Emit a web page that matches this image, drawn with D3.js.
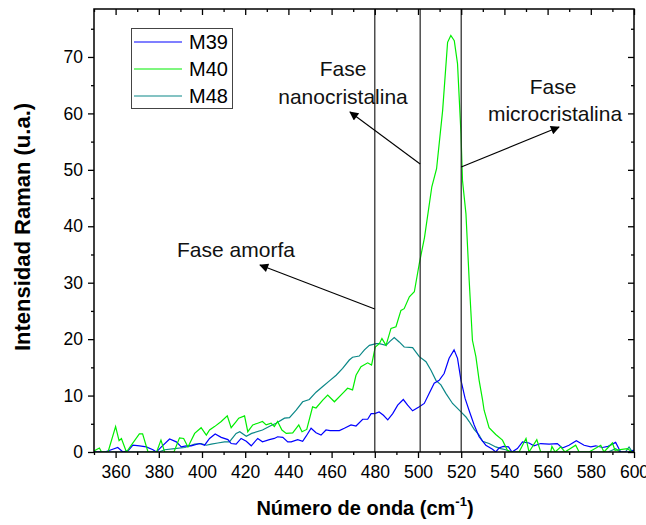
<!DOCTYPE html>
<html>
<head>
<meta charset="utf-8">
<script src="https://cdn.jsdelivr.net/npm/d3@7"></script>
<style>
  html, body { margin: 0; padding: 0; background: #fff; }
  svg { display: block; font-family: "Liberation Sans", Arial, sans-serif; }
</style>
</head>
<body>
<svg id="chart" width="646" height="525"></svg>
<script>
// ---------------- data ----------------
const seriesNames = ["M39", "M40", "M48"];
const seriesColors = ["#0000ff", "#00ee00", "#0a8787"];

const xM39 = [350,355,358,361,363.4,366,368,371.1,374.2,377.3,378.9,381.2,385,388.1,390.4,392.7,395,398.9,401.2,403.5,406.1,408.9,412,413.5,415.8,418.1,420.5,422.8,425.8,428,431.2,433.5,435,437.4,439.7,441.3,444.3,446.6,448.2,450.5,452.8,455.1,457.4,459.3,463.6,465.9,469,471.3,474.4,476.7,478.3,480,482,484,486,488.3,490.6,493.2,495.2,497.5,500.6,502.9,505.2,507.5,509.8,512.1,514.4,516.7,518.3,519.9,521.8,523.7,526,528.3,531.4,534.5,536,537.5,539.5,541.9,543.5,546,548.4,551.4,553.7,556.8,560.7,564.5,566.8,569.9,573.3,576.9,580,582.3,585.4,588,591.5,593.8,597.6,599.5,600];
const yM39 = [0,0,0.4,0.8,0,0.3,1.2,1.1,0.9,0.4,0,0.9,2.3,1.8,0.9,1.1,1.1,1.5,1.2,2.4,3.2,2.6,2.2,1.5,1.4,2.4,1.9,1.1,2.4,1.8,2.2,2.4,2.7,2.6,1.8,1.8,2.2,1.9,2.8,4.2,3.4,3.0,3.9,3.8,3.8,4.2,4.8,4.6,5.8,5.8,6.8,6.8,7.1,6.5,5.7,6.8,8.3,9.3,8.3,7.3,8.0,8.6,10.4,12.2,12.7,13.9,16.6,18.1,16.6,12.7,9.5,7.3,4.8,2.7,1.2,0.5,0,0.7,1.0,0.9,0,0.6,1.8,1.6,1.1,1.5,1.4,1.5,0.7,1.2,2.0,1.2,0.9,1.1,0.8,1.0,1.7,0,0,0.3,0.3];

const xM40 = [350,352.5,353.5,356.5,360,361.6,362.7,365,371,372.5,375,379,381,382.7,387,389.6,391.5,393.5,396.6,399.6,402,403.5,405.8,408.9,411.7,413.5,415.8,417,419.7,421.2,423.5,425.8,428,429.7,432,433.5,435,437,439,442,444.8,446.3,448.5,451.2,452.8,455.9,458.2,461.3,465.1,467.4,469.7,471.3,473.6,476.7,478.5,480.2,482.1,483.3,485.2,487.5,489.8,492.1,493.6,496,498.3,500.6,503,506.4,508.6,511.4,513.7,515.2,516.8,518.3,519.9,520.6,522.2,523.7,525.2,526.8,528.3,529.9,530.6,532.9,536,539.1,541.4,543,546.8,550,551.4,555,556.8,561.4,562,563.5,566.1,568,573,574.6,579.2,584.6,586.1,590,591.2,596.9,599.2,600];
const yM40 = [0.2,0.7,0,0,4.5,2.0,2.4,0,3.2,3.2,0,0,2.1,0,0,2.5,2.4,0.9,3.3,4.3,3.0,3.9,4.5,5.4,6.4,4.3,5.4,6.0,6.4,3.6,4.8,5.1,5.4,4.8,5.1,4.5,5.4,3.9,3.3,3.4,4.8,3.6,4.0,8.0,7.8,9.2,10.1,8.9,10.4,11.3,11.0,13.6,15.1,15.8,15.4,18.6,19.2,20.1,18.9,21.9,22.2,25.1,25.4,27.5,28.4,33.4,38.0,47.0,50.2,60.5,72.6,73.8,72.9,68.8,56.4,48.1,42.2,30.4,19.8,16.9,12.7,9.2,7.4,4.3,3.1,2.1,0.3,0,0,2.4,0,2.2,0,0,1.0,0,0.9,0,1.2,0,0,1.2,0,1.6,0.3,0.6,0,0];

const xM48 = [350,380,382.7,387.3,392,396.6,399.6,402,404.3,407.3,410.4,412.7,415.8,417.5,420.5,423,428,432,434.3,438.2,440.5,443.6,446.6,449.7,452.8,455.9,459,462.1,465.1,468.2,469.7,472.8,475.2,477.5,480.6,482.1,485.2,487,489,491.3,493.6,497.5,500.6,503.7,506,508.3,510.6,512.9,516,519.9,522.2,523.7,526,528.3,529.9,532.9,536,538.3,540.6,543,588,591.5,593.5,596,597.7,599.3,600];
const yM48 = [0,0,0.4,0.6,0.8,1.4,1.5,1.2,1.4,1.6,1.8,1.8,3.3,3.6,2.8,3.3,3.9,4.7,5.1,6.0,6.1,7.4,8.9,9.3,10.6,11.6,12.6,13.6,14.8,16.3,16.8,17.0,18.1,18.9,19.2,19.2,18.9,19.6,20.3,19.5,18.6,18.5,16.9,16.0,14.5,12.7,11.9,10.4,8.6,7.1,6.2,5.4,4.0,3.0,1.9,1.5,0.9,0.6,0.4,0,0,0.6,0,0,0.9,0,0];

const xTicksMajor = [360,380,400,420,440,460,480,500,520,540,560,580,600];
const xTicksMinor = [350,370,390,410,430,450,470,490,510,530,550,570,590];
const yTicksMajor = [0,10,20,30,40,50,60,70];
const yTicksMinor = [5,15,25,35,45,55,65,75];
const markerLines = [480, 501, 520];

// ---------------- layout ----------------
const svg = d3.select("#chart");
const L = 94, R = 634, T = 9, B = 452;
const x = d3.scaleLinear().domain([350, 600]).range([L, R]);
const y = d3.scaleLinear().domain([0, 78.5]).range([B, T]);

svg.append("defs").append("clipPath").attr("id", "clip")
  .append("rect").attr("x", L).attr("y", T).attr("width", R - L).attr("height", B - T);
const mk = svg.select("defs").append("marker")
  .attr("id", "arrow").attr("viewBox", "0 0 10 10").attr("refX", 9).attr("refY", 5)
  .attr("markerWidth", 14).attr("markerHeight", 9).attr("markerUnits", "userSpaceOnUse")
  .attr("orient", "auto");
mk.append("path").attr("d", "M0,0 L10,5 L0,10 Z").attr("fill", "#000");

// series
const line = d3.line().x(d => x(d[0])).y(d => y(d[1]));
const seriesData = [
  d3.zip(xM39, yM39),
  d3.zip(xM40, yM40),
  d3.zip(xM48, yM48)
];
const plotG = svg.append("g").attr("clip-path", "url(#clip)");
// draw order: M48, M39, M40 on top
[2, 0, 1].forEach(i => {
  plotG.append("path").datum(seriesData[i])
    .attr("fill", "none").attr("stroke", seriesColors[i]).attr("stroke-width", 1.2)
    .attr("d", line);
});

// vertical marker lines
svg.append("g").selectAll("line").data(markerLines).join("line")
  .attr("x1", d => x(d)).attr("x2", d => x(d)).attr("y1", T).attr("y2", B)
  .attr("stroke", "#222").attr("stroke-width", 1.2);

// axes
const fmt = d3.format("d");
svg.append("g").attr("transform", `translate(0,${B})`)
  .call(d3.axisBottom(x).tickValues(xTicksMajor).tickSize(6).tickPadding(8).tickFormat(fmt));
svg.append("g").attr("transform", `translate(0,${B})`)
  .call(d3.axisBottom(x).tickValues(xTicksMinor).tickSize(3).tickFormat(""));
svg.append("g").attr("transform", `translate(${L},0)`)
  .call(d3.axisLeft(y).tickValues(yTicksMajor).tickSize(6).tickPadding(5).tickFormat(fmt));
svg.append("g").attr("transform", `translate(${L},0)`)
  .call(d3.axisLeft(y).tickValues(yTicksMinor).tickSize(3).tickFormat(""));
// top & right (inward)
svg.append("g").attr("transform", `translate(0,${T})`)
  .call(d3.axisBottom(x).tickValues(xTicksMajor).tickSize(6).tickFormat(""));
svg.append("g").attr("transform", `translate(0,${T})`)
  .call(d3.axisBottom(x).tickValues(xTicksMinor).tickSize(3).tickFormat(""));
svg.append("g").attr("transform", `translate(${R},0)`)
  .call(d3.axisLeft(y).tickValues(yTicksMajor).tickSize(6).tickFormat(""));
svg.append("g").attr("transform", `translate(${R},0)`)
  .call(d3.axisLeft(y).tickValues(yTicksMinor).tickSize(3).tickFormat(""));

svg.selectAll(".domain").remove();
svg.selectAll(".tick line").attr("stroke", "#000").attr("stroke-width", 1.3);
svg.selectAll(".tick text").attr("font-size", 17.5).attr("fill", "#000")
  .attr("font-family", "'Liberation Sans', Arial, sans-serif");

// frame
svg.append("rect").attr("x", L).attr("y", T).attr("width", R - L).attr("height", B - T)
  .attr("fill", "none").attr("stroke", "#000").attr("stroke-width", 1.5);

// axis titles
const xt = svg.append("text").attr("x", 365).attr("y", 515).attr("text-anchor", "middle")
  .attr("font-size", 20).attr("font-weight", "bold").attr("fill", "#000");
xt.append("tspan").text("Número de onda (cm");
xt.append("tspan").attr("font-size", 13).attr("dy", -9).text("-1");
xt.append("tspan").attr("dy", 9).text(")");

svg.append("text").attr("transform", "translate(30,227) rotate(-90)")
  .attr("text-anchor", "middle").attr("font-size", 22).attr("font-weight", "bold")
  .attr("fill", "#000").text("Intensidad Raman (u.a.)");

// legend
const lg = svg.append("g");
lg.append("rect").attr("x", 131.5).attr("y", 28.5).attr("width", 101).attr("height", 80)
  .attr("fill", "#fff").attr("stroke", "#444").attr("stroke-width", 1);
seriesNames.forEach((n, i) => {
  const yy = 42 + i * 27;
  lg.append("line").attr("x1", 134).attr("x2", 182).attr("y1", yy).attr("y2", yy)
    .attr("stroke", seriesColors[i]).attr("stroke-width", 1.2);
  lg.append("text").attr("x", 189).attr("y", yy + 7).attr("font-size", 20)
    .attr("fill", "#000").text(n);
});

// annotations
const ann = svg.append("g").attr("font-size", 21).attr("fill", "#111").attr("text-anchor", "middle");
ann.append("text").attr("x", 343).attr("y", 76).text("Fase");
ann.append("text").attr("x", 343).attr("y", 104).text("nanocristalina");
ann.append("text").attr("x", 553).attr("y", 94).text("Fase");
ann.append("text").attr("x", 555).attr("y", 121).text("microcristalina");
ann.append("text").attr("x", 236).attr("y", 257).text("Fase amorfa");

const arrows = [
  [x(480), 309, 260, 265],
  [x(501), 164, 350, 112],
  [x(520), 167, 559, 127]
];
svg.append("g").selectAll("line").data(arrows).join("line")
  .attr("x1", d => d[0]).attr("y1", d => d[1]).attr("x2", d => d[2]).attr("y2", d => d[3])
  .attr("stroke", "#000").attr("stroke-width", 1.1).attr("marker-end", "url(#arrow)");
</script>
</body>
</html>
